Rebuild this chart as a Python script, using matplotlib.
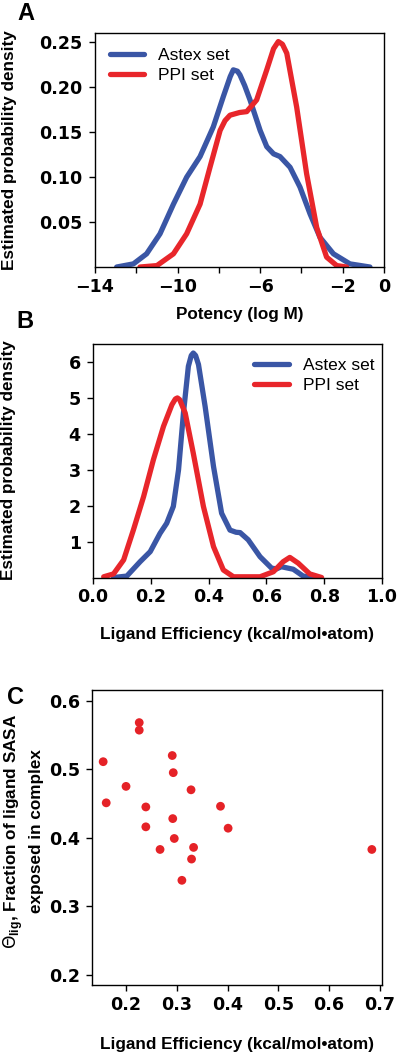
import numpy as np
import matplotlib
matplotlib.use('Agg')
import matplotlib.pyplot as plt

plt.rcParams['font.family'] = ['Liberation Sans', 'DejaVu Sans']

# colours
blue = '#3a56a5'
red = '#e8262b'

# panel A: potency density curves (traced)
potency_astex_x = [-12.95, -12.14, -11.5, -10.85, -10.2, -9.56, -8.91, -8.27, -7.78, -7.45, -7.3,
                   -7.1, -6.98, -6.75, -6.49, -6.0, -5.68, -5.35, -5.04, -4.55, -4.07, -3.58,
                   -3.1, -2.45, -1.65, -0.68]
potency_astex_y = [0.0, 0.0035, 0.0147, 0.037, 0.070, 0.100, 0.123, 0.156, 0.190, 0.212, 0.2195,
                   0.218, 0.214, 0.202, 0.186, 0.152, 0.134, 0.126, 0.123, 0.111, 0.089, 0.059,
                   0.033, 0.0147, 0.0035, 0.0]
potency_ppi_x = [-11.82, -11.0, -10.2, -9.56, -8.91, -8.43, -7.94, -7.7, -7.46, -7.0, -6.65, -6.17,
                 -5.68, -5.35, -5.12, -4.92, -4.71, -4.23, -3.75, -3.26, -2.78, -2.29, -1.81]
potency_ppi_y = [0.0, 0.0016, 0.0147, 0.037, 0.070, 0.111, 0.152, 0.163, 0.169, 0.172, 0.173, 0.186,
                 0.2195, 0.243, 0.251, 0.248, 0.238, 0.178, 0.104, 0.044, 0.011, 0.0016, 0.0]

# panel B: ligand efficiency density curves (traced)
le_astex_x = [0.071, 0.117, 0.163, 0.198, 0.232, 0.255, 0.278, 0.296, 0.313, 0.330, 0.340, 0.347,
              0.355, 0.365, 0.388, 0.417, 0.445, 0.474, 0.495, 0.509, 0.537, 0.578, 0.618, 0.635,
              0.652, 0.693, 0.727, 0.762]
le_astex_y = [0.0, 0.04, 0.44, 0.72, 1.23, 1.51, 1.98, 3.0, 4.58, 5.88, 6.18, 6.25,
              6.18, 5.93, 4.76, 3.09, 1.79, 1.32, 1.26, 1.25, 1.05, 0.58, 0.26, 0.24,
              0.30, 0.23, 0.04, 0.0]
le_ppi_x = [0.037, 0.071, 0.106, 0.14, 0.175, 0.209, 0.244, 0.273, 0.285, 0.292, 0.300, 0.319,
            0.347, 0.382, 0.417, 0.451, 0.486, 0.578, 0.624, 0.658, 0.681, 0.710, 0.750, 0.791]
le_ppi_y = [0.02, 0.10, 0.49, 1.33, 2.25, 3.28, 4.21, 4.81, 4.97, 5.0, 4.95, 4.58,
            3.46, 1.98, 0.86, 0.21, 0.02, 0.02, 0.16, 0.44, 0.56, 0.40, 0.10, 0.0]

# panel C: scatter of LE vs exposed fraction
scatter_le = [0.155, 0.161, 0.200, 0.226, 0.226, 0.239, 0.239, 0.267, 0.291, 0.293,
              0.292, 0.295, 0.310, 0.328, 0.333, 0.329, 0.386, 0.401, 0.684]
scatter_theta = [0.511, 0.451, 0.475, 0.568, 0.557, 0.445, 0.416, 0.383, 0.520, 0.495,
                 0.428, 0.399, 0.338, 0.470, 0.386, 0.369, 0.446, 0.414, 0.383]

fig = plt.figure(figsize=(4.0, 10.55), dpi=100)

tick_fs = 12.6
lab_fs = 12.3
leg_fs = 12.5
lw = 3.8

def style_axes(ax):
    for s in ax.spines.values():
        s.set_linewidth(1.0)
    ax.tick_params(direction='out', length=4.3, width=1.0, labelsize=tick_fs)
    ax.tick_params(axis='x', pad=3.5)
    ax.tick_params(axis='y', pad=4.5)
    for lbl in ax.get_xticklabels() + ax.get_yticklabels():
        lbl.set_fontweight('bold')
        lbl.set_family('DejaVu Sans')

# ---- A ----
axA = fig.add_axes([0.2375, 0.7469, 0.7225, 0.2218])
axA.plot(potency_astex_x, potency_astex_y, color=blue, lw=lw, solid_capstyle='round',
         solid_joinstyle='round', label='Astex set')
axA.plot(potency_ppi_x, potency_ppi_y, color=red, lw=lw, solid_capstyle='round',
         solid_joinstyle='round', label='PPI set')
axA.set_xlim(-14, 0)
axA.set_ylim(0, 0.2605)
axA.set_xticks(np.arange(-14, 1, 2))
axA.set_xticklabels(['\u221214', '', '\u221210', '', '\u22126', '', '\u22122', '0'])
axA.set_yticks([0.05, 0.10, 0.15, 0.20, 0.25])
axA.set_yticklabels(['0.05', '0.10', '0.15', '0.20', '0.25'])
style_axes(axA)
axA.set_xlabel('Potency (log M)', fontsize=lab_fs, fontweight='bold')
axA.xaxis.set_label_coords(0.5, -0.172)
axA.set_ylabel('Estimated probability density', fontsize=lab_fs, fontweight='bold')
axA.yaxis.set_label_coords(-0.27, 0.5)
axA.legend(loc='upper left', frameon=False, fontsize=leg_fs, handlelength=2.0,
           handletextpad=0.8, labelspacing=0.3, borderaxespad=0.6, borderpad=0.25)
fig.text(26 / 400, 1 - 14 / 1055, 'A', fontsize=17, fontweight='bold', ha='center', va='center')

# ---- B ----
axB = fig.add_axes([0.2325, 0.4526, 0.7225, 0.2213])
axB.plot(le_astex_x, le_astex_y, color=blue, lw=lw, solid_capstyle='round',
         solid_joinstyle='round', label='Astex set')
axB.plot(le_ppi_x, le_ppi_y, color=red, lw=lw, solid_capstyle='round',
         solid_joinstyle='round', label='PPI set')
axB.set_xlim(0, 1.0)
axB.set_ylim(0, 6.5)
axB.set_xticks([0.0, 0.2, 0.4, 0.6, 0.8, 1.0])
axB.set_xticklabels(['0.0', '0.2', '0.4', '0.6', '0.8', '1.0'])
axB.set_yticks([1, 2, 3, 4, 5, 6])
style_axes(axB)
axB.set_xlabel('Ligand Efficiency (kcal/mol\u2022atom)', fontsize=lab_fs, fontweight='bold')
axB.xaxis.set_label_coords(0.5, -0.214)
axB.set_ylabel('Estimated probability density', fontsize=lab_fs, fontweight='bold')
axB.yaxis.set_label_coords(-0.265, 0.503)
axB.legend(loc='upper right', bbox_to_anchor=(1.0, 0.975), frameon=False, fontsize=leg_fs,
           handlelength=2.0, handletextpad=0.8, labelspacing=0.3, borderaxespad=0.2,
           borderpad=0.25)
fig.text(25 / 400, 1 - 322 / 1055, 'B', fontsize=17, fontweight='bold', ha='center', va='center')

# ---- C ----
axC = fig.add_axes([0.23, 0.0664, 0.725, 0.2796])
axC.scatter(scatter_le, scatter_theta, s=40, color='#e52227', edgecolors='none')
axC.set_xlim(0.133, 0.704)
axC.set_ylim(0.1854, 0.6156)
axC.set_xticks([0.2, 0.3, 0.4, 0.5, 0.6, 0.7])
axC.set_yticks([0.2, 0.3, 0.4, 0.5, 0.6])
style_axes(axC)
axC.set_xlabel('Ligand Efficiency (kcal/mol\u2022atom)', fontsize=lab_fs, fontweight='bold')
axC.xaxis.set_label_coords(0.5, -0.176)
axC.set_ylabel('$\\Theta_{\\mathregular{lig}}$, Fraction of ligand SASA\nexposed in complex',
               fontsize=lab_fs, fontweight='bold', linespacing=1.3)
axC.yaxis.set_label_coords(-0.166, 0.52)
fig.text(16 / 400, 1 - 698 / 1055, 'C', fontsize=17, fontweight='bold', ha='center', va='center')

fig.savefig('out.png', dpi=100)
